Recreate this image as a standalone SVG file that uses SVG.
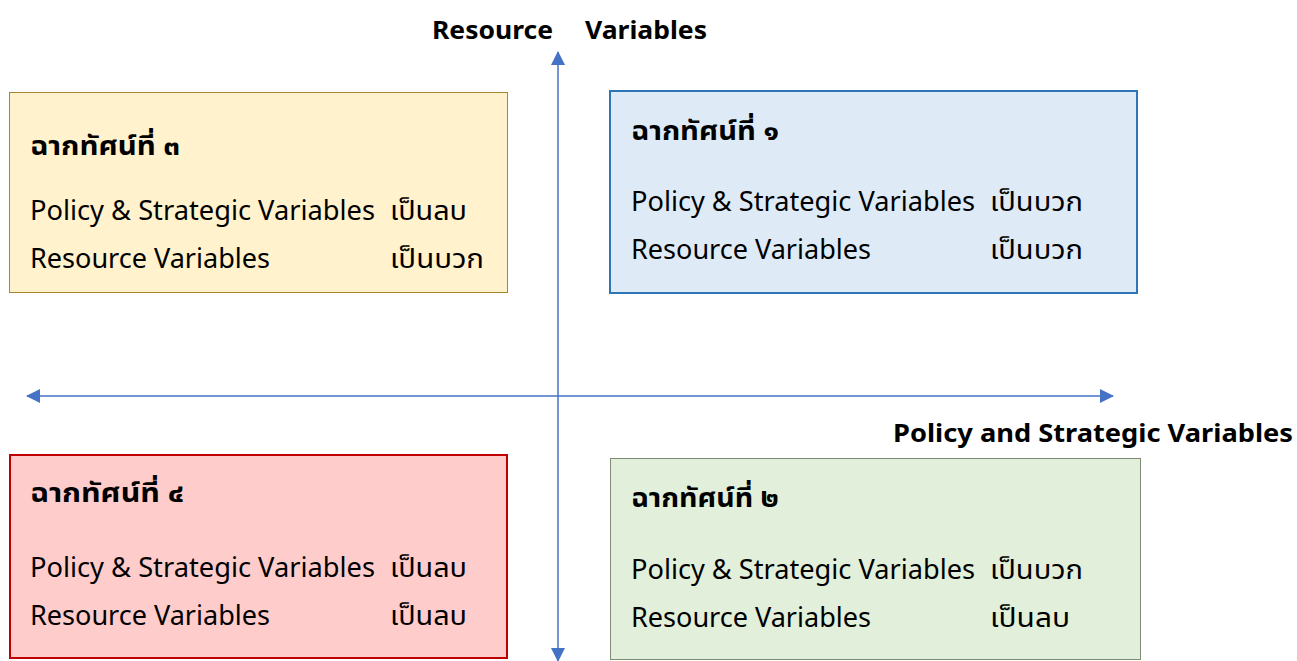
<svg xmlns="http://www.w3.org/2000/svg" width="1297" height="661" viewBox="0 0 1297 661">
<style>
text{font-family:"Noto Sans","Noto Sans Thai","DejaVu Sans",sans-serif;fill:#000}
.t{font-size:26px;font-weight:bold}
.b{font-size:27px}
.ax{font-size:25px;font-weight:bold}
.axis{stroke:#4472C4;stroke-width:1.5;fill:none}
</style>
<defs>
<marker id="ah" viewBox="0 0 14 14" refX="13" refY="7" markerWidth="14" markerHeight="14" markerUnits="userSpaceOnUse" orient="auto-start-reverse">
<path d="M0,0 L14,7 L0,14 z" fill="#4472C4"/>
</marker>
</defs>
<rect width="1297" height="661" fill="#fff"/>
<g id="connectors">
<line class="axis" x1="558" y1="52" x2="558" y2="661" marker-start="url(#ah)" marker-end="url(#ah)"/>
<line class="axis" x1="27" y1="396" x2="1113" y2="396" marker-start="url(#ah)" marker-end="url(#ah)"/>
</g>
<g id="label-resource"><text class="ax" x="432" y="39" textLength="121" lengthAdjust="spacingAndGlyphs">Resource</text><text class="ax" x="585" y="39" textLength="122" lengthAdjust="spacingAndGlyphs">Variables</text></g>
<g id="label-policy"><text class="ax" x="893" y="442" textLength="400" lengthAdjust="spacingAndGlyphs">Policy and Strategic Variables</text></g>
<g id="q3">
<rect x="9.5" y="92.5" width="498" height="200" fill="#FFF2CC" stroke="#A6872B" stroke-width="1"/>
<text class="t" x="30" y="155" textLength="150" lengthAdjust="spacingAndGlyphs">ฉากทัศน์ที่ ๓</text>
<text class="b" x="30" y="220" textLength="345" lengthAdjust="spacingAndGlyphs">Policy &amp; Strategic Variables</text>
<text class="b" x="390" y="220" textLength="77" lengthAdjust="spacingAndGlyphs">เป็นลบ</text>
<text class="b" x="30" y="268" textLength="240" lengthAdjust="spacingAndGlyphs">Resource Variables</text>
<text class="b" x="390" y="268" textLength="94" lengthAdjust="spacingAndGlyphs">เป็นบวก</text>
</g>
<g id="q1">
<rect x="610" y="91" width="527" height="202" fill="#DEEBF7" stroke="#2E75B6" stroke-width="2"/>
<text class="t" x="631" y="140" textLength="148" lengthAdjust="spacingAndGlyphs">ฉากทัศน์ที่ ๑</text>
<text class="b" x="631" y="211" textLength="344" lengthAdjust="spacingAndGlyphs">Policy &amp; Strategic Variables</text>
<text class="b" x="990" y="211" textLength="93" lengthAdjust="spacingAndGlyphs">เป็นบวก</text>
<text class="b" x="631" y="259" textLength="240" lengthAdjust="spacingAndGlyphs">Resource Variables</text>
<text class="b" x="990" y="259" textLength="93" lengthAdjust="spacingAndGlyphs">เป็นบวก</text>
</g>
<g id="q4">
<rect x="10" y="455" width="497" height="203" fill="#FFCCCC" stroke="#C00000" stroke-width="2"/>
<text class="t" x="30" y="502" textLength="154" lengthAdjust="spacingAndGlyphs">ฉากทัศน์ที่ ๔</text>
<text class="b" x="30" y="577" textLength="345" lengthAdjust="spacingAndGlyphs">Policy &amp; Strategic Variables</text>
<text class="b" x="390" y="577" textLength="77" lengthAdjust="spacingAndGlyphs">เป็นลบ</text>
<text class="b" x="30" y="625" textLength="240" lengthAdjust="spacingAndGlyphs">Resource Variables</text>
<text class="b" x="390" y="625" textLength="77" lengthAdjust="spacingAndGlyphs">เป็นลบ</text>
</g>
<g id="q2">
<rect x="610.5" y="458.5" width="530" height="201" fill="#E2EFDA" stroke="#7F8C74" stroke-width="1"/>
<text class="t" x="631" y="507" textLength="148" lengthAdjust="spacingAndGlyphs">ฉากทัศน์ที่ ๒</text>
<text class="b" x="631" y="579" textLength="344" lengthAdjust="spacingAndGlyphs">Policy &amp; Strategic Variables</text>
<text class="b" x="990" y="579" textLength="93" lengthAdjust="spacingAndGlyphs">เป็นบวก</text>
<text class="b" x="631" y="627" textLength="240" lengthAdjust="spacingAndGlyphs">Resource Variables</text>
<text class="b" x="990" y="627" textLength="80" lengthAdjust="spacingAndGlyphs">เป็นลบ</text>
</g>
</svg>
